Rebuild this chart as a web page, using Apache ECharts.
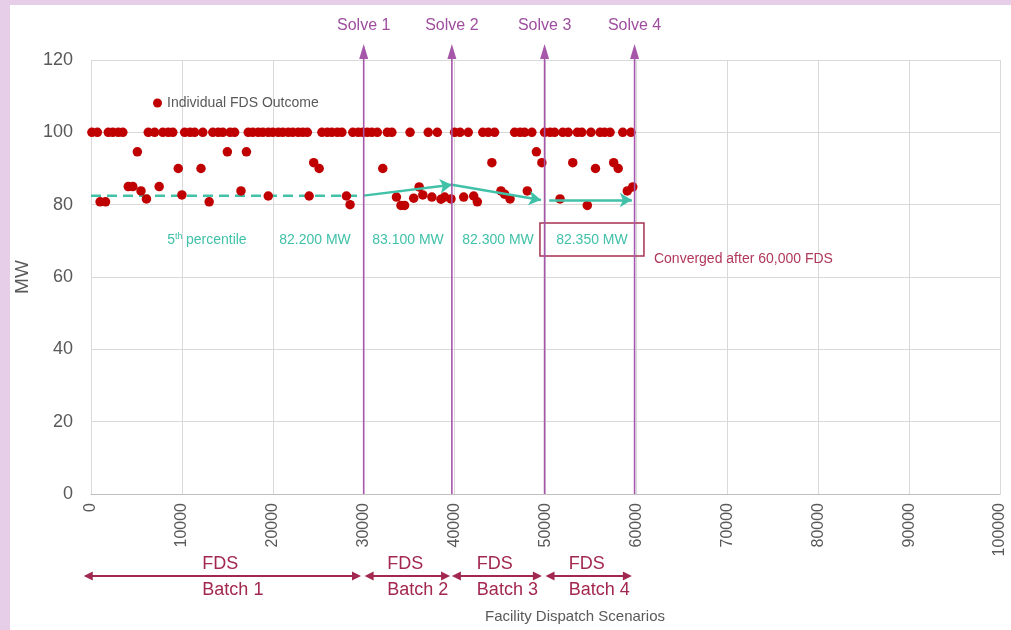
<!DOCTYPE html>
<html><head><meta charset="utf-8">
<script src="https://cdn.jsdelivr.net/npm/echarts@6/dist/echarts.min.js"></script>
<style>
html,body{margin:0;padding:0;background:#e6cde8;width:1011px;height:630px;overflow:hidden;}
#frame{position:absolute;left:10px;top:5px;width:1001px;height:625px;background:#fff;}
#chart{width:1001px;height:625px;}
</style></head><body><div id="frame"><div id="chart"></div></div>
<script>
// ---- data ----
const outcomeScenario = [
  100, 700, 1900, 2400, 3000, 3500, 6300, 7000, 7900, 8500, 9000, 10300, 10900, 11400, 12300, 13400, 14000, 14500,
  15300, 15800, 17300, 17800, 18400, 18900, 19500, 20000, 20600, 21100, 21700, 22200, 22800, 23300, 23800, 25400,
  26000, 26500, 27100, 27600, 28800, 29400, 29900, 30400, 30900, 31500, 32600, 33100, 35100, 37100, 38100, 40000,
  40600, 41500, 43100, 43700, 44400, 46600, 47200, 47700, 48500, 49900, 50500, 51000, 51900, 52500, 53500, 54000,
  55000, 56000, 56500, 57100, 58500, 59400,
  1000, 1600, 4100, 4600, 5100, 5500, 6100, 7500, 9600, 10000, 12100, 13000, 15000, 16500, 17100, 19500, 24000,
  24500, 25100, 28100, 28500, 32100, 33600, 34100, 34500, 35500, 36100, 36500, 37500, 38500, 38900, 39600, 41000,
  42100, 42500, 44100, 45100, 45500, 46100, 48000, 49000, 49600, 51600, 53000, 54600, 55500, 57500, 58000, 59000, 59600
];
const outcomeMW = [
  100, 100, 100, 100, 100, 100, 100, 100, 100, 100, 100, 100, 100, 100, 100, 100, 100, 100,
  100, 100, 100, 100, 100, 100, 100, 100, 100, 100, 100, 100, 100, 100, 100, 100,
  100, 100, 100, 100, 100, 100, 100, 100, 100, 100, 100, 100, 100, 100, 100, 100,
  100, 100, 100, 100, 100, 100, 100, 100, 100, 100, 100, 100, 100, 100, 100, 100,
  100, 100, 100, 100, 100, 100,
  80.8, 80.8, 85, 85, 94.6, 83.8, 81.6, 85, 90, 82.7, 90, 80.8, 94.6, 83.8, 94.6, 82.4, 82.4,
  91.6, 90, 82.4, 80, 90, 82.1, 79.8, 79.8, 81.8, 84.9, 82.7, 82.1, 81.5, 82.1, 81.6, 82.1,
  82.4, 80.8, 91.6, 83.8, 82.9, 81.6, 83.8, 94.6, 91.6, 81.6, 91.6, 79.8, 90, 91.6, 90, 83.8, 84.9
];
const yAxisRange = [0, 120, 20];          // min, max, interval
const xAxisRange = [0, 100000, 10000];    // min, max, interval
const pctDashed = [[0, 82.5], [30000, 82.5]];
const pctArrowFrom = [[30000, 82.5], [39700, 85.5], [50400, 81.3]];
const pctArrowTo   = [[39700, 85.5], [49500, 81.3], [59500, 81.3]];
const pctLabels = ['82.200 MW', '83.100 MW', '82.300 MW', '82.350 MW'];
const pctLabelX = [24640, 34870, 44770, 55110];
const pctLabelMW = 70.2;
const pctTitleX = 12760;
const solveX = [30000, 39700, 49900, 59800];
const solveNames = ['Solve 1', 'Solve 2', 'Solve 3', 'Solve 4'];
const batchStart = [-800, 30100, 39700, 50000];
const batchEnd = [29700, 39500, 49600, 59500];
const batchNames = ['Batch 1', 'Batch 2', 'Batch 3', 'Batch 4'];
const seriesName = 'Individual FDS Outcome';
const convergedText = 'Converged after 60,000 FDS';
const xTitle = 'Facility Dispatch Scenarios';
const yTitle = 'MW';

// ---- styles ----
const FONT = "'Liberation Sans',sans-serif";
const GRAY = '#595959';
const RED = '#c00000';
const TEAL = '#40c1a8';
const PURPLE = '#a657aa';
const PURPLE_TXT = '#9e4e9f';
const CRIMSON = '#a3284f';

const chart = echarts.init(document.getElementById('chart'), null, {renderer: 'canvas'});
const points = outcomeScenario.map((x, i) => [x, outcomeMW[i]]);

chart.setOption({
  animation: false,
  backgroundColor: '#ffffff',
  grid: {left: 81, right: 11, top: 55, bottom: 136, containLabel: false, outerBoundsMode: 'none'},
  legend: {
    data: [seriesName], left: 138, top: 86, icon: 'circle', itemWidth: 9, itemHeight: 9,
    textStyle: {fontSize: 14, color: GRAY, fontFamily: FONT}
  },
  xAxis: {
    type: 'value', min: xAxisRange[0], max: xAxisRange[1], interval: xAxisRange[2],
    axisLine: {show: true, lineStyle: {color: '#bfbfbf', width: 1}},
    axisTick: {show: false},
    splitLine: {show: true, lineStyle: {color: '#d9d9d9', width: 1}},
    axisLabel: {rotate: 90, fontSize: 16, color: GRAY, fontFamily: FONT, margin: 9,
      formatter: v => String(v)}
  },
  yAxis: {
    type: 'value', min: yAxisRange[0], max: yAxisRange[1], interval: yAxisRange[2],
    name: yTitle, nameLocation: 'middle', nameGap: 58, nameRotate: 90,
    nameTextStyle: {fontSize: 19, color: GRAY, fontFamily: FONT},
    axisLine: {show: false}, axisTick: {show: false},
    splitLine: {show: true, lineStyle: {color: '#d9d9d9', width: 1}},
    axisLabel: {fontSize: 18, color: GRAY, fontFamily: FONT, margin: 18, formatter: v => String(v)}
  },
  series: [
    {
      name: '5th percentile', type: 'line', data: pctDashed, symbol: 'none', z: 3,
      lineStyle: {color: TEAL, width: 2.5, type: [10, 6]},
      markLine: {
        silent: true, symbol: ['none', 'arrow'], symbolSize: [11, 12], precision: 3,
        label: {show: false},
        lineStyle: {color: TEAL, width: 2.5, type: 'solid'},
        emphasis: {disabled: true},
        data: pctArrowFrom.map((f, i) => [{coord: f}, {coord: pctArrowTo[i]}])
      }
    },
    {
      name: seriesName, type: 'scatter', data: points, symbolSize: 9.5, z: 4,
      itemStyle: {color: RED, opacity: 1}
    }
  ]
});

function P(x, y) { return chart.convertToPixel({gridIndex: 0}, [x, y]); }

function buildGraphics() {
  const g = [];
  const y0 = P(0, 0)[1];
  // Solve markers
  solveX.forEach((x, i) => {
    const px = P(x, 0)[0];
    g.push({type: 'line', silent: true, z: 50, shape: {x1: px, y1: y0, x2: px, y2: 50},
      style: {stroke: PURPLE, lineWidth: 1.6}});
    g.push({type: 'polygon', silent: true, z: 50, shape: {points: [[px, 39], [px - 4.5, 54], [px + 4.5, 54]]},
      style: {fill: PURPLE}});
    g.push({type: 'text', silent: true, z: 50, x: px, y: 21,
      style: {text: solveNames[i], fill: PURPLE_TXT, font: '16px ' + FONT, align: 'center', verticalAlign: 'middle'}});
  });
  // Batch double arrows
  const by = 571;
  batchStart.forEach((s, i) => {
    const a = P(s, 0)[0], b = P(batchEnd[i], 0)[0];
    g.push({type: 'line', silent: true, shape: {x1: a + 4, y1: by, x2: b - 4, y2: by},
      style: {stroke: CRIMSON, lineWidth: 2}});
    g.push({type: 'polygon', silent: true, shape: {points: [[a, by], [a + 9, by - 4.5], [a + 9, by + 4.5]]},
      style: {fill: CRIMSON}});
    g.push({type: 'polygon', silent: true, shape: {points: [[b, by], [b - 9, by - 4.5], [b - 9, by + 4.5]]},
      style: {fill: CRIMSON}});
    const left = (a + b) / 2 - 20;
    g.push({type: 'text', silent: true, x: left, y: 559,
      style: {text: 'FDS', fill: CRIMSON, font: '18px ' + FONT, align: 'left', verticalAlign: 'middle'}});
    g.push({type: 'text', silent: true, x: left, y: 585,
      style: {text: batchNames[i], fill: CRIMSON, font: '18px ' + FONT, align: 'left', verticalAlign: 'middle'}});
  });
  // percentile labels
  const t = P(pctTitleX, pctLabelMW);
  g.push({type: 'text', silent: true, x: t[0], y: t[1],
    style: {
      text: '{n|5}{s|th} {n|percentile}', align: 'center', verticalAlign: 'middle', fill: TEAL,
      rich: {
        n: {fontSize: 14, fontFamily: FONT, fill: TEAL, color: TEAL, lineHeight: 16},
        s: {fontSize: 9, fontFamily: FONT, fill: TEAL, color: TEAL, verticalAlign: 'top', lineHeight: 16}
      }
    }});
  pctLabels.forEach((txt, i) => {
    const p = P(pctLabelX[i], pctLabelMW);
    g.push({type: 'text', silent: true, x: p[0], y: p[1],
      style: {text: txt, fill: TEAL, font: '14px ' + FONT, align: 'center', verticalAlign: 'middle'}});
    if (i === pctLabels.length - 1) {
      g.push({type: 'rect', silent: true, shape: {x: p[0] - 52, y: p[1] - 17, width: 104, height: 33},
        style: {fill: 'none', stroke: '#a83252', lineWidth: 1.5}});
      g.push({type: 'text', silent: true, x: p[0] + 62, y: p[1] + 19,
        style: {text: convergedText, fill: '#b0385a', font: '14px ' + FONT, align: 'left', verticalAlign: 'middle'}});
    }
  });
  // x axis title
  g.push({type: 'text', silent: true, x: 565, y: 612,
    style: {text: xTitle, fill: GRAY, font: '15px ' + FONT, align: 'center', verticalAlign: 'middle'}});
  chart.setOption({graphic: {elements: g}});
}
buildGraphics();
</script>
</body></html>
